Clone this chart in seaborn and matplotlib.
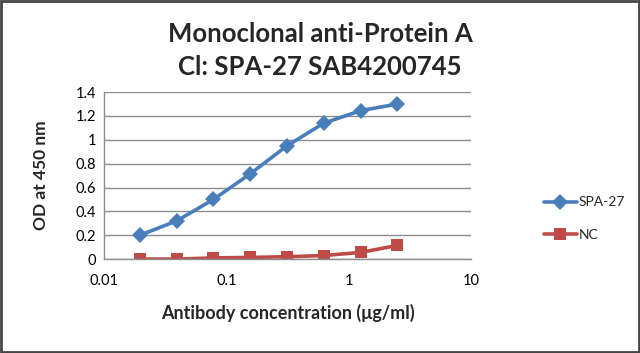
import numpy as np
import pandas as pd
import matplotlib
matplotlib.use("Agg")
import matplotlib.pyplot as plt
import seaborn as sns

# data
conc = [0.0195, 0.039, 0.078, 0.156, 0.3125, 0.625, 1.25, 2.5]
spa27 = [0.20, 0.32, 0.50, 0.715, 0.95, 1.14, 1.245, 1.30]
nc = [0.00, 0.00, 0.01, 0.014, 0.02, 0.03, 0.056, 0.115]
series_names = ["SPA-27", "NC"]
xtick_vals = [0.01, 0.1, 1, 10]
xtick_labels = ["0.01", "0.1", "1", "10"]
ytick_vals = [0, 0.2, 0.4, 0.6, 0.8, 1, 1.2, 1.4]
ytick_labels = ["0", "0.2", "0.4", "0.6", "0.8", "1", "1.2", "1.4"]

df = pd.DataFrame({
    "conc": conc * 2,
    "od": spa27 + nc,
    "series": [series_names[0]] * len(conc) + [series_names[1]] * len(conc),
})

sns.set_style("white")
plt.rcParams["font.family"] = ["Lato", "DejaVu Sans"]

fig = plt.figure(figsize=(6.4, 3.53), dpi=100)
ax = fig.add_axes([0.163, 0.266, 0.573, 0.473])

sns.lineplot(data=df, x="conc", y="od", hue="series", style="series",
             markers={"SPA-27": "D", "NC": "s"}, dashes=False,
             palette={"SPA-27": "#4A7EBB", "NC": "#BE4B48"},
             linewidth=2.6, markersize=8, markeredgewidth=0, ax=ax)

ax.set_xscale("log")
ax.set_xlim(0.01, 10)
ax.set_ylim(0, 1.4)
ax.set_xticks(xtick_vals)
ax.set_xticklabels(xtick_labels)
ax.xaxis.set_minor_locator(matplotlib.ticker.NullLocator())
ax.set_yticks(ytick_vals)
ax.set_yticklabels(ytick_labels)
ax.tick_params(axis="both", length=0, labelsize=10.5, colors="black", pad=6)
ax.tick_params(axis="x", pad=11)
ax.grid(axis="y", color="#8c8c8c", linewidth=1)
ax.grid(axis="x", visible=False)
ax.set_axisbelow(True)
for s in ["top", "right"]:
    ax.spines[s].set_visible(False)
for s in ["left", "bottom"]:
    ax.spines[s].set_color("#8c8c8c")
    ax.spines[s].set_linewidth(1)

ax.set_xlabel("Antibody concentration (\u03bcg/ml)", fontsize=13, fontweight="bold")
ax.set_ylabel("OD at 450 nm", fontsize=12.5, fontweight="bold")
ax.yaxis.set_label_coords(-0.15, 0.5)
ax.xaxis.set_label_coords(0.5, -0.27)

fig.text(0.5, 0.905, "Monoclonal anti-Protein A", ha="center", va="center",
         fontsize=18.5, fontweight="bold")
fig.text(0.5, 0.81, "Cl: SPA-27 SAB4200745", ha="center", va="center",
         fontsize=18.5, fontweight="bold")

leg = ax.legend(title=None, frameon=False, loc="center left",
                bbox_to_anchor=(0.83, 0.38), bbox_transform=fig.transFigure,
                handlelength=2.4, handletextpad=0.1, labelspacing=1.5, fontsize=10)

# outer frame like the source picture
fig.patches.append(matplotlib.patches.Rectangle((0.002, 0.003), 0.996, 0.994,
                   transform=fig.transFigure, fill=False, edgecolor="#444444", linewidth=2))

fig.savefig("out.png", dpi=100)
